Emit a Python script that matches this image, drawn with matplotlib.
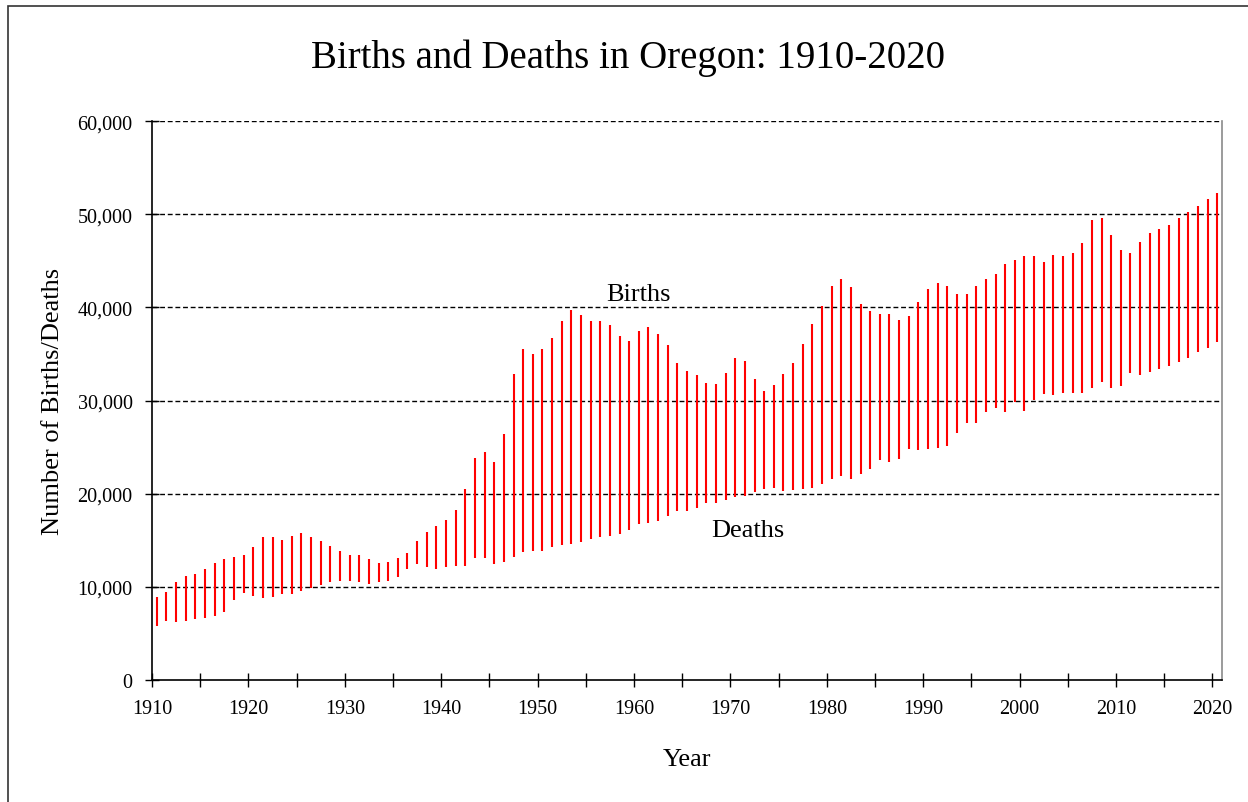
import numpy as np
import matplotlib
matplotlib.use("Agg")
import matplotlib.pyplot as plt
from matplotlib.patches import Rectangle
from matplotlib.ticker import FuncFormatter

# === Data ===
years = np.arange(1910, 2021)

births = [
    8930, 9400, 10470, 11180, 11360, 11970, 12580, 13040, 13190, 13470,  # 1910s
    14260, 15330, 15330, 15010, 15470, 15760, 15330, 14870, 14400, 13800,  # 1920s
    13370, 13370, 13000, 12540, 12720, 13150, 13650, 14870, 15940, 16540,  # 1930s
    17180, 18260, 20550, 23870, 24480, 23400, 26450, 32880, 35480, 35020,  # 1940s
    35480, 36660, 38520, 39700, 39130, 38520, 38520, 38060, 36980, 36370,  # 1950s
    37440, 37920, 37170, 35910, 34060, 33200, 32700, 31930, 31810, 33000,  # 1960s
    34520, 34260, 32270, 31020, 31630, 32880, 34060, 36060, 38240, 40200,  # 1970s
    42340, 43090, 42160, 40380, 39590, 39310, 39310, 38670, 39100, 40630,  # 1980s
    42020, 42630, 42340, 41450, 41450, 42340, 43090, 43560, 44630, 45100,  # 1990s
    45530, 45530, 44920, 45670, 45530, 45850, 46920, 49340, 49630, 47810,  # 2000s
    46200, 45850, 47060, 48000, 48420, 48880, 49630, 50280, 50890, 51640,  # 2010s
    52280,  # 2020
]

deaths = [
    5820, 6290, 6180, 6290, 6540, 6610, 6900, 7260, 8610, 9360,
    9040, 8760, 8930, 9250, 9250, 9510, 9830, 10180, 10470, 10610,
    10610, 10470, 10320, 10470, 10610, 11110, 11970, 12440, 12150, 11900,
    12150, 12260, 12260, 13050, 13050, 12440, 12620, 13220, 13690, 13860,
    13840, 14290, 14440, 14580, 14800, 15100, 15350, 15470, 15650, 16150,
    16720, 16900, 17050, 17610, 18100, 18150, 18510, 19050, 19050, 19330,
    19600, 19760, 20200, 20500, 20660, 20260, 20440, 20550, 20660, 21010,
    21620, 21900, 21620, 22080, 22690, 23580, 23440, 23760, 24830, 24660,
    24840, 24950, 25120, 26480, 27580, 27580, 28760, 29230, 28760, 29880,
    28910, 30050, 30730, 30630, 30770, 30770, 30770, 31360, 31980, 31360,
    31520, 32910, 32730, 33050, 33340, 33680, 34140, 34550, 35190, 35620,
    36270,
]

y_ticks = [0, 10000, 20000, 30000, 40000, 50000, 60000]
x_label_years = list(range(1910, 2021, 10))

assert len(births) == len(years) and len(deaths) == len(years)

# === Figure ===
plt.rcParams["font.family"] = ["Liberation Serif", "DejaVu Serif"]
fig = plt.figure(figsize=(12.48, 8.03), dpi=100)
ax = fig.add_axes([0.1218, 0.1519, 0.8574, 0.6961])

# high-low lines, one per year, centered in the year's category
ax.vlines(years + 0.5, deaths, births, color="#ff0000", linewidth=1.5, zorder=3)

ax.set_xlim(1910, 2021)
ax.set_ylim(0, 60000)

# gridlines
for v in y_ticks[1:]:
    ax.axhline(v, color="black", linewidth=1.0, linestyle=(0, (3.5, 2)), zorder=1)

ax.set_yticks(y_ticks)
ax.yaxis.set_major_formatter(FuncFormatter(lambda v, _: f"{int(v):,}"))
ax.set_xticks(range(1910, 2021, 5))
ax.set_xticklabels([str(y) if y in x_label_years else "" for y in range(1910, 2021, 5)])
ax.tick_params(axis="both", direction="inout", length=10, width=1,
               labelsize=14.5, pad=9)

for side in ["left", "bottom"]:
    ax.spines[side].set_linewidth(1.2)
ax.spines["top"].set_visible(False)
ax.spines["right"].set_color("#8a8a8a")
ax.spines["right"].set_linewidth(1.2)

# labels
ax.set_xlabel("Year", fontsize=19, labelpad=21)
ax.set_ylabel("Number of Births/Deaths", fontsize=19, labelpad=10)
fig.text(0.503, 0.928, "Births and Deaths in Oregon: 1910-2020",
         ha="center", va="center", fontsize=28)

ax.text(1960.5, 41400, "Births", ha="center", va="center", fontsize=19)
ax.text(1971.8, 16100, "Deaths", ha="center", va="center", fontsize=19)

# outer frame (cut off at right and bottom like the source image)
fig.patches.append(Rectangle((8 / 1248, -0.5), 2.0, 0.5 + 1 - 7 / 803,
                             transform=fig.transFigure, fill=False,
                             edgecolor="#333333", linewidth=1.2))

fig.savefig("out.png", dpi=100)
